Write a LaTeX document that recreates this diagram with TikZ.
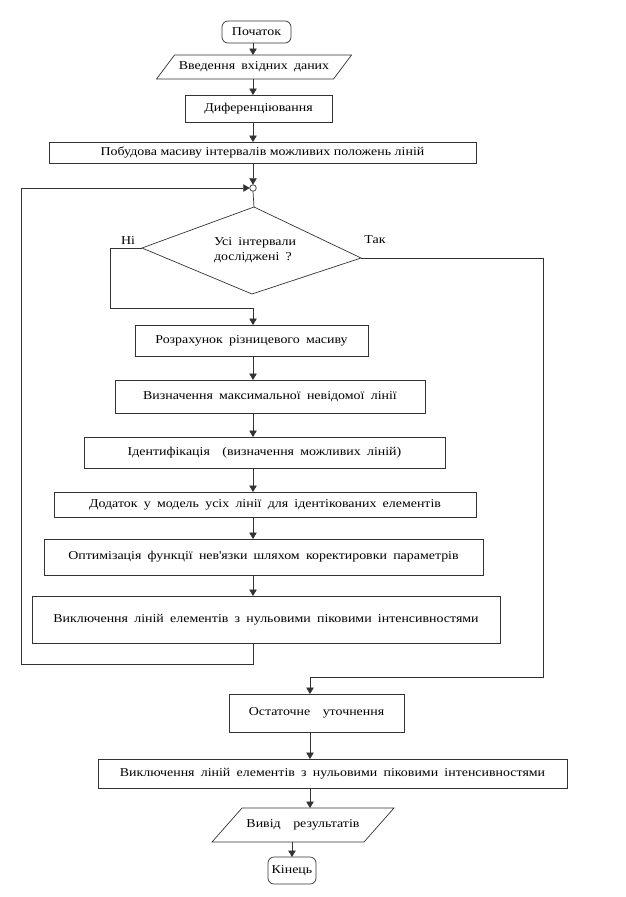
\documentclass[tikz,border=0pt]{standalone}
\usepackage{fontspec}
\setmainfont{Liberation Serif}[WordSpace=1.8, FakeStretch=1.16]
\usetikzlibrary{arrows.meta}
\begin{document}
\begin{tikzpicture}[x=1pt,y=-1pt,
  every node/.style={font=\fontsize{12}{15}\selectfont, inner sep=0pt, outer sep=0pt},
  line/.style={draw=black!80, line width=0.7pt},
  arr/.style={line, -{Triangle[length=6.5pt,width=7.5pt]}},
  box/.style={line, rectangle, align=center},
  term/.style={line, rectangle, rounded corners=6pt, align=center},
  plain/.style={align=center}]
\useasboundingbox (0,0) rectangle (626,897);
\coordinate (ax) at (253,0);
\coordinate (bx) at (310,0);
\coordinate (cx) at (292,0);
% nodes
\node[term, minimum width=69, minimum height=22] (start) at (256.5,32) {Початок};
\node[plain, minimum width=177, minimum height=24] (inp) at (254,67) {Введення вхідних даних};
\draw[line] ([xshift=9pt]inp.north west) -- ([xshift=9pt]inp.north east) -- ([xshift=-9pt]inp.south east) -- ([xshift=-9pt]inp.south west) -- cycle;
\node[box, minimum width=147, minimum height=27] (dif) at (258.5,108.5) {Диференціювання};
\node[box, minimum width=427, minimum height=21] (pob) at (262.5,152.5) {\spaceskip=3.6pt\relax Побудова\ масиву\ інтервалів\ можливих положень\ ліній};
\node[line, circle, fill=white, minimum size=6.5pt] (circ) at (253,188) {};
% diamond
\coordinate (dtop) at (254,207);
\coordinate (dleft) at (142,248);
\coordinate (dright) at (361,258);
\coordinate (dbot) at (252,294);
\draw[line] (dtop) -- (dright) -- (dbot) -- (dleft) -- cycle;
\node[align=left, anchor=west] (dtext) at (214,250.5) {Усі інтервали\\досліджені ?};
\node (ni) at (128,241) {Ні};
\node (tak) at (375,240) {Так};
\node[box, minimum width=233, minimum height=31] (roz) at (251.5,340.5) {Розрахунок різницевого масиву};
\node[box, minimum width=310, minimum height=33] (viz) at (270,396.5) {Визначення максимальної невідомої лінії};
\node[box, minimum width=361, minimum height=31] (ide) at (264.5,452.5) {Ідентифікація \ (визначення можливих ліній)};
\node[box, minimum width=422, minimum height=25] (dod) at (265,504.5) {Додаток у модель усіх лінії для ідентікованих елементів};
\node[box, minimum width=439, minimum height=36] (opt) at (263.5,557) {Оптимізація функції нев\textquotesingle язки шляхом коректировки параметрів};
\node[box, minimum width=468, minimum height=47] (vyk1) at (266,619.5) {Виключення ліній елементів з нульовими піковими інтенсивностями};
\node[box, minimum width=175, minimum height=38] (ost) at (316.5,713) {Остаточне \ уточнення};
\node[box, minimum width=469, minimum height=29] (vyk2) at (332.5,773.5) {Виключення ліній елементів з нульовими піковими інтенсивностями};
\node[plain, minimum width=152, minimum height=34] (vyv) at (303,825) {Вивід \ результатів};
\draw[line] ([xshift=15pt]vyv.north west) -- ([xshift=15pt]vyv.north east) -- ([xshift=-15pt]vyv.south east) -- ([xshift=-15pt]vyv.south west) -- cycle;
\node[term, minimum width=48, minimum height=27] (kin) at (292,870.5) {Кінець};
% connectors
\draw[arr] (start.south -| ax) -- (inp.north -| ax);
\draw[arr] (inp.south -| ax) -- (dif.north -| ax);
\draw[arr] (dif.south -| ax) -- (pob.north -| ax);
\draw[arr] (pob.south -| ax) -- (circ.north);
\draw[line] (circ.south) -- (dtop);
\coordinate (nL) at (110,248);
\coordinate (nB) at (253,308);
\draw[arr] (dleft) -- (nL) |- (nB) -- (roz.north -| nB);
\coordinate (tR) at (543,677);
\draw[arr] (dright) -| (tR) -| (ost.north -| bx);
\draw[arr] (roz.south -| ax) -- (viz.north -| ax);
\draw[arr] (viz.south -| ax) -- (ide.north -| ax);
\draw[arr] (ide.south -| ax) -- (dod.north -| ax);
\draw[arr] (dod.south -| ax) -- (opt.north -| ax);
\draw[arr] (opt.south -| ax) -- (vyk1.north -| ax);
\coordinate (lL) at (21,664);
\draw[arr] (vyk1.south -| ax) |- (lL) |- (circ.west);
\draw[arr] (ost.south -| bx) -- (vyk2.north -| bx);
\draw[arr] (vyk2.south -| bx) -- (vyv.north -| bx);
\draw[arr] (vyv.south -| cx) -- (kin.north -| cx);
\end{tikzpicture}
\end{document}
